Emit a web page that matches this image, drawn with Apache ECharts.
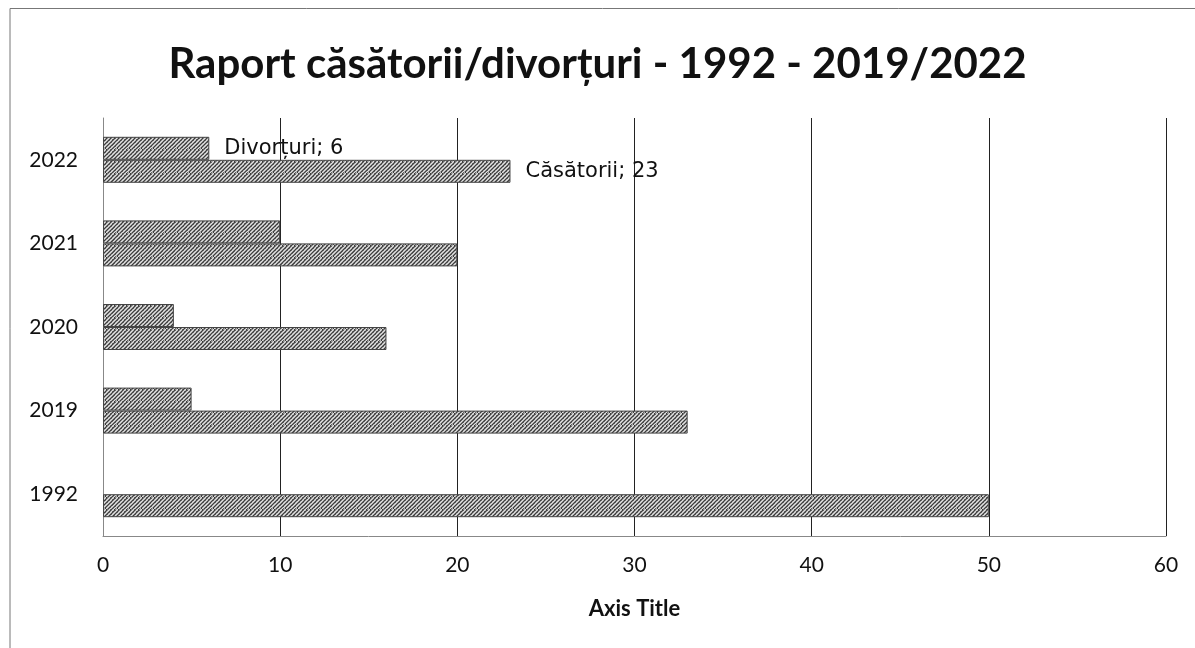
<!DOCTYPE html>
<html>
<head>
<meta charset="utf-8">
<script src="https://cdn.jsdelivr.net/npm/echarts@6/dist/echarts.min.js"></script>
<style>
  html, body { margin: 0; padding: 0; background: #fff; }
  #chart { width: 1195px; height: 648px; }
</style>
</head>
<body>
<div id="chart"></div>
<script>
// Years, bottom to top
const years = ['1992', '2019', '2020', '2021', '2022'];
// Values per year
const casatorii = [50, 33, 16, 20, 23];
const divorturi = [null, 5, 4, 10, 6];
const xTicks = { min: 0, max: 60, interval: 10 };

// Gray woven-looking fill used by the bars (fixed 12x12 tile)
function hatch() {
  const tile = [
    'dlwgdmwgdlwg',
    'lwgdmwgdlwgd',
    'wgdlwgdmwgdl',
    'gdmwgdlwgdlw',
    'dlwgdlwmgdwg',
    'lwmdgwdlgwdm',
    'wgdlwgdmwgdl',
    'gdlwmdlwgdlw',
    'dmwgdlwgdmwg',
    'lwgdlwgdlwgd',
    'wgdmwgdlwgdm',
    'gdlwgdmwgdlw'
  ];
  const col = { d: '#3e3e3e', l: '#8e8e8e', w: '#e2e2e2', g: '#ababab', m: '#666666' };
  const c = document.createElement('canvas');
  c.width = 12; c.height = 12;
  const g = c.getContext('2d');
  tile.forEach((row, y) => {
    for (let x = 0; x < row.length; x++) {
      g.fillStyle = col[row[x]];
      g.fillRect(x, y, 1, 1);
    }
  });
  return c;
}
const fill = { image: hatch(), repeat: 'repeat' };

const lastIdx = years.length - 1;
function withLabel(arr, name) {
  return arr.map((v, i) => i === lastIdx
    ? { value: v, label: { show: true, position: 'right', distance: 15,
        formatter: name + '; ' + v,
        fontFamily: 'DejaVu Sans', fontSize: 21, color: '#111' } }
    : v);
}

const chart = echarts.init(document.getElementById('chart'), null, { renderer: 'canvas' });
chart.setOption({
  animation: false,
  backgroundColor: '#fff',
  title: {
    text: 'Raport căsătorii/divorțuri - 1992 - 2019/2022',
    left: 'center', top: 38,
    textStyle: { fontFamily: 'Lato', fontWeight: 'bold', fontSize: 42, color: '#111' }
  },
  graphic: [{
    type: 'polyline',
    shape: { points: [[10, 648], [10, 8.5], [1195, 8.5]] },
    style: { stroke: '#777', lineWidth: 1, fill: null }
  }],
  grid: { left: 103, right: 29, top: 118, bottom: 112 },
  xAxis: {
    type: 'value',
    min: xTicks.min, max: xTicks.max, interval: xTicks.interval,
    name: 'Axis Title', nameLocation: 'middle', nameGap: 62,
    nameTextStyle: { fontFamily: 'Lato', fontWeight: 'bold', fontSize: 22, color: '#111' },
    axisLine: { show: true, lineStyle: { color: '#888' } },
    axisTick: { show: false },
    axisLabel: { fontFamily: 'Lato', fontSize: 21, color: '#111', margin: 19 },
    splitLine: { show: true, lineStyle: { color: '#222', width: 1 } }
  },
  yAxis: {
    type: 'category',
    data: years,
    axisLine: { show: true, lineStyle: { color: '#888' } },
    axisTick: { show: false },
    axisLabel: { fontFamily: 'Lato', fontSize: 21, color: '#111', margin: 25 },
    splitLine: { show: false }
  },
  series: [
    {
      name: 'Divorțuri', type: 'bar',
      data: withLabel(divorturi, 'Divorțuri'),
      barWidth: 23, barGap: '0%',
      itemStyle: { color: fill, borderColor: '#444', borderWidth: 1 }
    },
    {
      name: 'Căsătorii', type: 'bar',
      data: withLabel(casatorii, 'Căsătorii'),
      barWidth: 23, barGap: '0%',
      itemStyle: { color: fill, borderColor: '#444', borderWidth: 1 }
    }
  ]
});
</script>
</body>
</html>
